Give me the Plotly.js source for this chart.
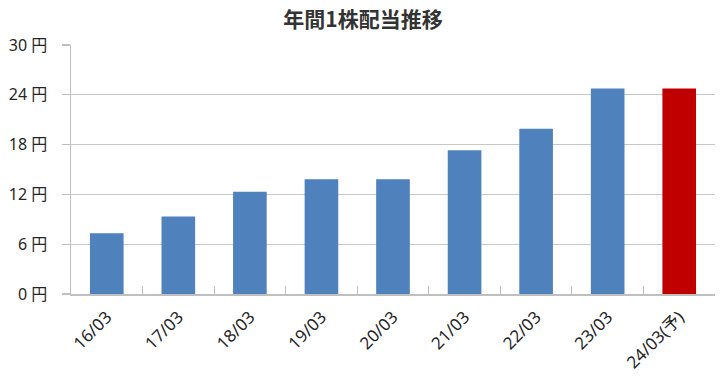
<!DOCTYPE html>
<html>
<head>
<meta charset="utf-8">
<script src="https://cdn.plot.ly/plotly-3.0.1.min.js"></script>
<style>html,body{margin:0;padding:0;background:#fff;}#chart{width:726px;height:388px;}</style>
</head>
<body>
<div id="chart"></div>
<script>
const categories = ["16/03","17/03","18/03","19/03","20/03","21/03","22/03","23/03","24/03(予)"];
const dividends = [7.33, 9.33, 12.33, 13.83, 13.83, 17.33, 19.9, 24.75, 24.75];
const barColors = ["#4f81bd","#4f81bd","#4f81bd","#4f81bd","#4f81bd","#4f81bd","#4f81bd","#4f81bd","#c00000"];
const yTicks = [0, 6, 12, 18, 24, 30];

const font = "'Noto Sans', 'Noto Sans CJK JP', sans-serif";
const cjk = "'Noto Sans CJK JP', sans-serif";
Plotly.newPlot("chart", [{
  type: "bar",
  x: categories,
  y: dividends,
  marker: {color: barColors},
  hoverinfo: "none"
}], {
  width: 726, height: 388,
  margin: {l: 71, r: 11, t: 45, b: 94},
  paper_bgcolor: "#fff", plot_bgcolor: "#fff",
  bargap: 0.53,
  showlegend: false,
  title: {text: "<b>年間1株配当推移</b>", x: 0.5, xanchor: "center", y: 0.95, yanchor: "middle",
          font: {family: cjk, size: 21, color: "#333333"}},
  xaxis: {
    type: "category",
    tickangle: -45,
    tickfont: {family: font, size: 17, color: "#262626"},
    ticklabelstandoff: 5,
    showline: true, linecolor: "#bfbfbf", linewidth: 1.5,
    ticks: "inside", tickson: "boundaries", ticklen: 8, tickcolor: "#bfbfbf", tickwidth: 1.2,
    showgrid: false
  },
  yaxis: {
    range: [0, 30],
    tickvals: yTicks,
    ticktext: yTicks.map(v => v + "&nbsp;円"),
    tickfont: {family: font, size: 16, color: "#262626"},
    ticklabelstandoff: 11,
    showline: true, linecolor: "#bfbfbf", linewidth: 1.5,
    ticks: "outside", ticklen: 8, tickcolor: "#bfbfbf", tickwidth: 1.2,
    showgrid: true, gridcolor: "#c8c8c8", gridwidth: 1.2,
    zeroline: false
  }
}, {staticPlot: true});
</script>
</body>
</html>
